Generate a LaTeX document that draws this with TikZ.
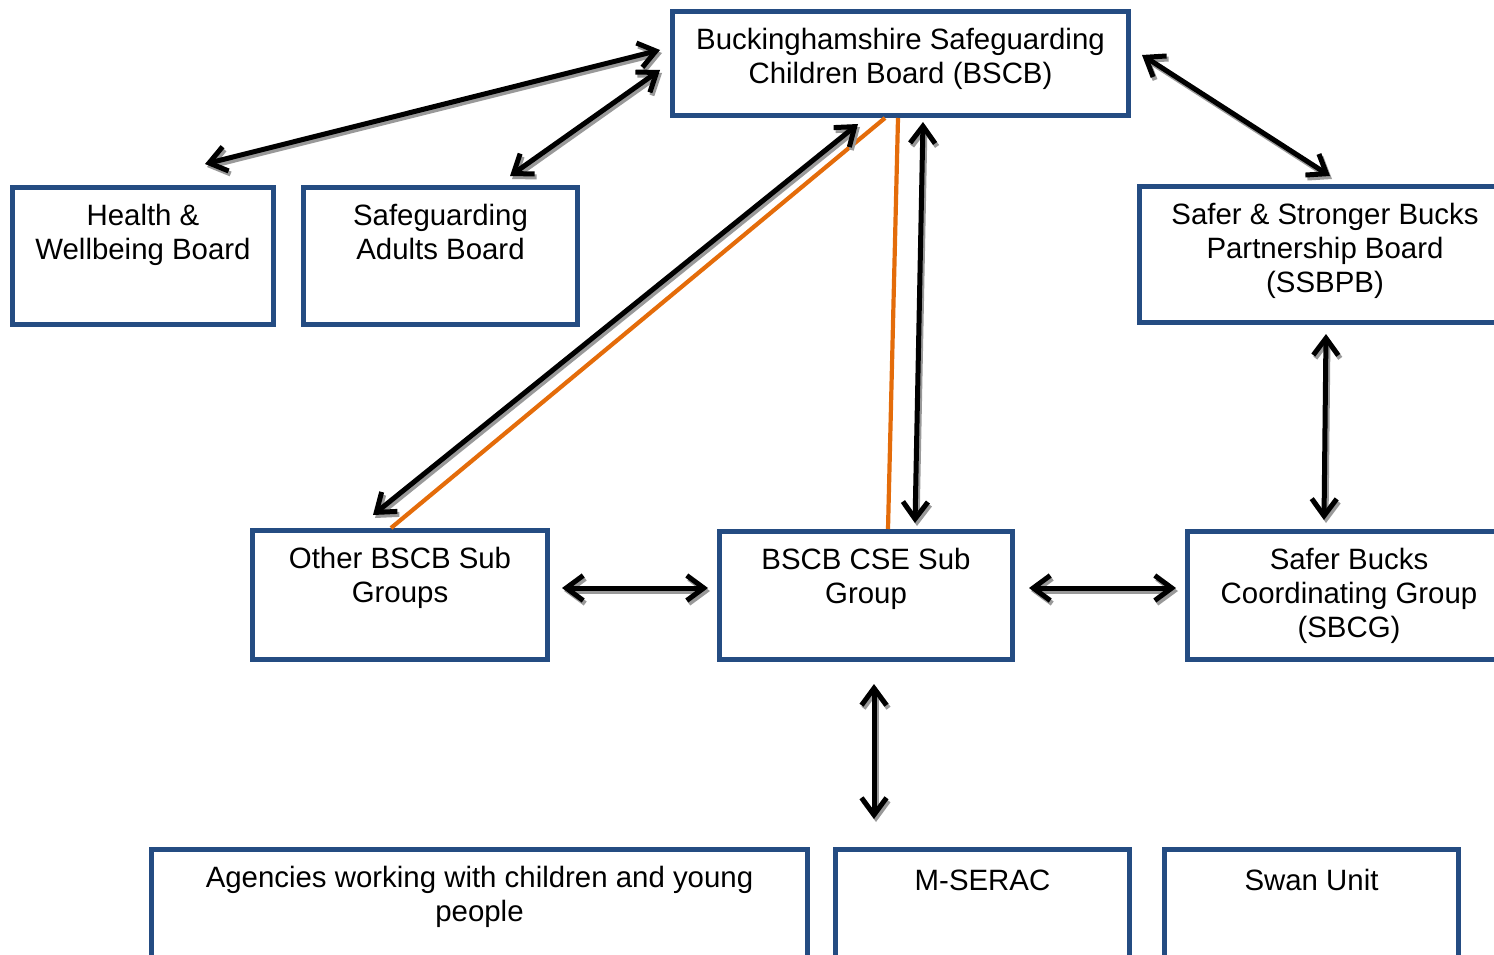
\documentclass[tikz,border=0pt]{standalone}
\usepackage{fontspec}
\setmainfont{Liberation Sans}
\usetikzlibrary{arrows.meta,calc}
\definecolor{boxblue}{HTML}{244C82}
\definecolor{lineorange}{HTML}{E46C0A}
\begin{document}
\begin{tikzpicture}[x=1pt,y=-1pt,
  box/.style={draw=boxblue, line width=5pt, fill=white, inner sep=0pt, rectangle},
  lbl/.style={anchor=north, inner sep=0pt, align=center, font=\fontsize{29.4}{34}\selectfont, execute at begin node=\strut},
  link/.style={line width=5pt, {Straight Barb[length=17pt,width=25pt]}-{Straight Barb[length=17pt,width=25pt]}},
  shadowlink/.style={link, draw=black!40},
  orangeline/.style={draw=lineorange, line width=4.2pt}]
\useasboundingbox (0,0) rectangle (1494,955);
\clip (0,0) rectangle (1494,955);
% boxes
\node[box, minimum width=456pt, minimum height=104pt] (bscb) at (900.5,63.5) {};
\node[box, minimum width=261pt, minimum height=137pt] (hw) at (143,256) {};
\node[box, minimum width=274pt, minimum height=137pt] (sab) at (440.5,256) {};
\node[box, minimum width=371pt, minimum height=136pt] (ssbpb) at (1325,254.5) {};
\node[box, minimum width=295pt, minimum height=129pt] (other) at (400,595) {};
\node[box, minimum width=293pt, minimum height=128pt] (cse) at (866,595.5) {};
\node[box, minimum width=323pt, minimum height=128pt] (sbcg) at (1349,595.5) {};
\node[box, minimum width=656pt, minimum height=130pt] (agency) at (479.5,914) {};
\node[box, minimum width=294pt, minimum height=130pt] (mserac) at (982.5,914) {};
\node[box, minimum width=294pt, minimum height=130pt] (swan) at (1311.5,914) {};
% labels
\node[lbl] (tbscb) at (900.5,28) {Buckinghamshire Safeguarding\\Children Board (BSCB)};
\node[lbl] (thw) at (143,204) {Health \&\\Wellbeing Board};
\node[lbl] (tsab) at (440.5,204) {Safeguarding\\Adults Board};
\node[lbl] (tssbpb) at (1325,203) {Safer \& Stronger Bucks\\Partnership Board\\(SSBPB)};
\node[lbl] (tother) at (400,547) {Other BSCB Sub\\Groups};
\node[lbl] (tcse) at (866,548) {BSCB CSE Sub\\Group};
\node[lbl] (tsbcg) at (1349,548) {Safer Bucks\\Coordinating Group\\(SBCG)};
\node[lbl] (tagency) at (479.5,866) {Agencies working with children and young\\people};
\node[lbl] (tmserac) at (982.5,866) {M-SERAC};
\node[lbl] (tswan) at (1311.5,866) {Swan Unit};
% orange lines
\draw[orangeline] ($(bscb.south)+(-15.5,0)$) -- ($(other.north)+(-9,0)$);
\draw[orangeline] ($(bscb.south)+(-2.5,0)$) -- ($(cse.north)+(22,0)$);
% connector end points
\coordinate (mtop) at ($(cse.south)+(8,22)$);
\coordinate (mbot) at ($(cse.south)+(8,157)$);
% arrow shadows
\begin{scope}[transform canvas={shift={(2pt,-3pt)}}]
\draw[shadowlink] ($(hw.north)+(62,-21)$) -- ($(bscb.west)+(-10,-13.5)$);
\draw[shadowlink] ($(sab.north)+(69.5,-9)$) -- ($(bscb.west)+(-10,6.5)$);
\draw[shadowlink] ($(bscb.east)+(11,-8.5)$) -- ($(ssbpb.north)+(5,-8)$);
\draw[shadowlink] ($(bscb.south)+(-42.5,6)$) -- ($(other.north)+(-27,-13)$);
\draw[shadowlink] ($(bscb.south)+(22.5,4)$) -- ($(cse.north)+(49,-6)$);
\draw[shadowlink] ($(ssbpb.south)+(1,9)$) -- ($(sbcg.north)+(-25,-9)$);
\draw[shadowlink] ($(other.east)+(12,-7)$) -- ($(cse.west)+(-9,-7.5)$);
\draw[shadowlink] ($(cse.east)+(14,-7.5)$) -- ($(sbcg.west)+(-9,-7.5)$);
\draw[shadowlink] (mtop) -- (mbot);
\end{scope}
% arrows
\draw[link] ($(hw.north)+(62,-21)$) -- ($(bscb.west)+(-10,-13.5)$);
\draw[link] ($(sab.north)+(69.5,-9)$) -- ($(bscb.west)+(-10,6.5)$);
\draw[link] ($(bscb.east)+(11,-8.5)$) -- ($(ssbpb.north)+(5,-8)$);
\draw[link] ($(bscb.south)+(-42.5,6)$) -- ($(other.north)+(-27,-13)$);
\draw[link] ($(bscb.south)+(22.5,4)$) -- ($(cse.north)+(49,-6)$);
\draw[link] ($(ssbpb.south)+(1,9)$) -- ($(sbcg.north)+(-25,-9)$);
\draw[link] ($(other.east)+(12,-7)$) -- ($(cse.west)+(-9,-7.5)$);
\draw[link] ($(cse.east)+(14,-7.5)$) -- ($(sbcg.west)+(-9,-7.5)$);
\draw[link] (mtop) -- (mbot);
\end{tikzpicture}
\end{document}
